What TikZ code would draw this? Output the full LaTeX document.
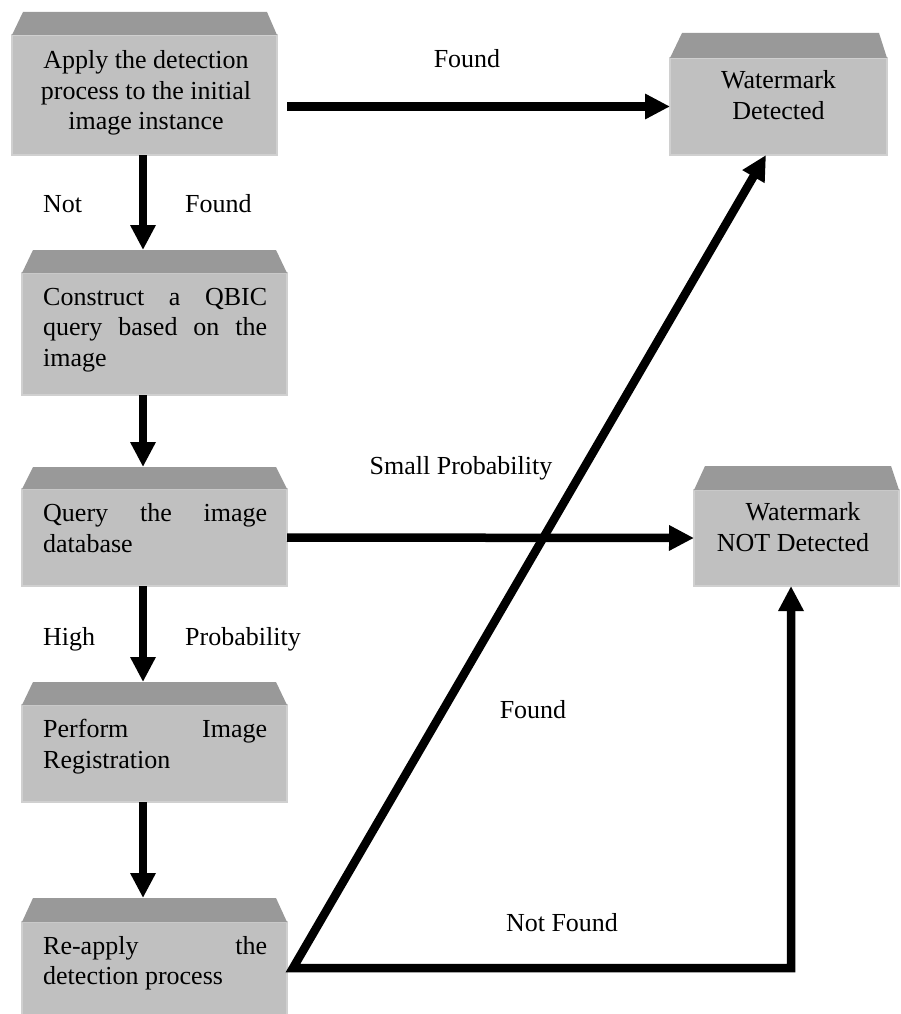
\documentclass[tikz,border=0pt]{standalone}
\usepackage{fontspec}
\setmainfont{Liberation Serif}
\usetikzlibrary{arrows.meta}
\definecolor{facegray}{HTML}{C0C0C0}
\definecolor{topgray}{HTML}{999999}
\definecolor{rimgray}{HTML}{D0D0D0}
% bevelled top of a box: #1 node, #2/#3 left/right inset, #4 height
\newcommand\topslab[4]{%
  \fill[topgray] (#1.north west) -- ([shift={(#2pt,#4pt)}]#1.north west)
    -- ([shift={(-#3pt,#4pt)}]#1.north east) -- (#1.north east) -- cycle;
  \coordinate (#1-top) at ([yshift=#4pt]#1.north);}
\begin{document}
\begin{tikzpicture}[x=1pt,y=-1pt,
  face/.style={fill=facegray, draw=rimgray, line width=1.2pt, anchor=north west,
    inner sep=0pt, outer sep=0pt},
  lbl/.style={font=\fontsize{26}{30.5}\selectfont, inner sep=0pt},
  boxtxt/.style={lbl, align=left, anchor=north west, execute at begin node=\strut},
  ctrtxt/.style={lbl, align=center, anchor=north, execute at begin node=\strut},
  flow/.style={line width=8.5pt, -{Triangle[length=25pt,width=24pt]}},
  twoway/.style={line width=8.5pt, line join=miter,
    {Triangle[length=25pt,width=24pt]}-{Triangle[length=25pt,width=24pt]}},
]
\useasboundingbox (0,0) rectangle (900,1014);
\clip (0,0) rectangle (900,1014);

% front faces of the boxes
\node[face, minimum width=265pt, minimum height=120pt] (apply) at (12,35) {};
\node[face, minimum width=265pt, minimum height=122pt] (construct) at (22,273) {};
\node[face, minimum width=265pt, minimum height=97pt] (query) at (22,489) {};
\node[face, minimum width=265pt, minimum height=97pt] (register) at (22,705) {};
\node[face, minimum width=265pt, minimum height=100pt] (reapply) at (22,922) {};
\node[face, minimum width=217pt, minimum height=97pt] (det) at (670,58) {};
\node[face, minimum width=205pt, minimum height=96pt] (notdet) at (694,490) {};

% bevelled tops
\topslab{apply}{11}{10}{23}
\topslab{construct}{11}{11}{23}
\topslab{query}{11}{11}{22}
\topslab{register}{11}{11}{23}
\topslab{reapply}{11}{11}{24}
\topslab{det}{12}{8}{25}
\topslab{notdet}{11}{8}{24}

% box texts
\node[ctrtxt] (t-apply) at ([shift={(1.5pt,-15.6pt)}]apply.north)
  {Apply the detection\\process to the initial\\image instance};
\node[boxtxt] (t-construct) at ([shift={(21pt,-14.6pt)}]construct.north west)
  {\makebox[224pt][s]{Construct a QBIC}\\\makebox[224pt][s]{query based on the}\\image};
\node[boxtxt] (t-query) at ([shift={(21pt,-14.6pt)}]query.north west)
  {\makebox[224pt][s]{Query the image}\\database};
\node[boxtxt] (t-register) at ([shift={(21pt,-14pt)}]register.north west)
  {\makebox[224pt][s]{Perform Image}\\Registration};
\node[boxtxt] (t-reapply) at ([shift={(21pt,-14pt)}]reapply.north west)
  {\makebox[224pt][s]{Re-apply the}\\detection process};
\node[ctrtxt] (t-det) at ([yshift=-12.7pt]det.north)
  {Watermark\\Detected};
\node[ctrtxt] (t-notdet) at ([shift={(-3.5pt,-12.7pt)}]notdet.north)
  {\hspace*{20pt}Watermark\\NOT Detected};

% connector labels
\node[lbl, anchor=base] (l-found1) at (467,68) {Found};
\node[lbl, anchor=base west] (l-not) at (43,212) {Not};
\node[lbl, anchor=base west] (l-found2) at (185,212) {Found};
\node[lbl, anchor=base west] (l-high) at (43,645) {High};
\node[lbl, anchor=base west] (l-prob) at (185,645) {Probability};
\node[lbl, anchor=base] (l-small) at (461,474) {Small Probability};
\node[lbl, anchor=base] (l-found3) at (533,718) {Found};
\node[lbl, anchor=base] (l-notfound) at (562,931) {Not Found};

% connectors
\coordinate (col) at (143,0);
\draw[flow] ([xshift=10pt]apply.east |- det.west) -- (det.west);
\draw[flow] (col |- apply.south) -- (col |- construct-top);
\draw[flow] (col |- construct.south) -- (col |- query-top);
\draw[flow] (query.east) -- (notdet.west);
\draw[flow] (col |- query.south) -- (col |- register-top);
\draw[flow] (col |- register.south) -- (col |- reapply-top);
\draw[twoway] ([xshift=-12.5pt]det.south) -- ([shift={(6pt,4pt)}]reapply.east)
  -| ([xshift=-5.5pt]notdet.south);
\end{tikzpicture}
\end{document}
